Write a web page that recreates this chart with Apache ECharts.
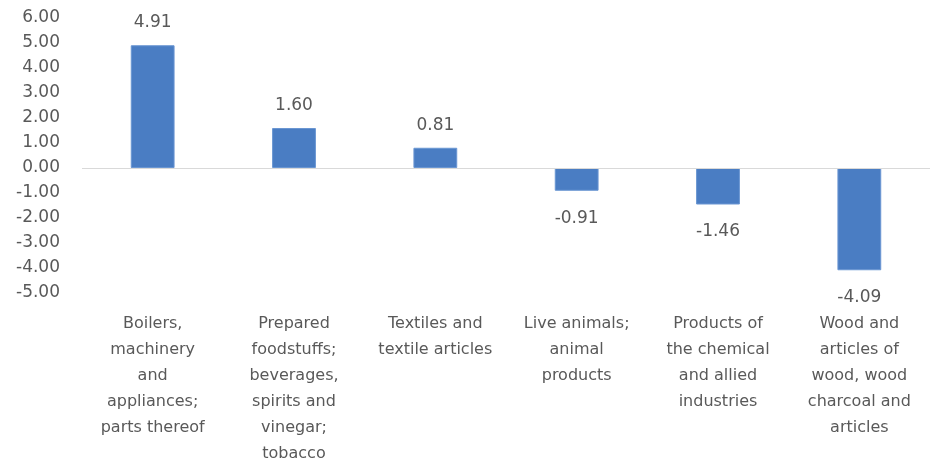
<!DOCTYPE html>
<html>
<head>
<meta charset="utf-8">
<script src="https://cdn.jsdelivr.net/npm/echarts@6/dist/echarts.min.js"></script>
<style>
  html, body { margin: 0; padding: 0; background: #fff; }
  #chart { width: 930px; height: 468px; }
</style>
</head>
<body>
<div id="chart"></div>
<script>
// categories (line breaks as in the picture)
const categories = [
  'Boilers,\nmachinery\nand\nappliances;\nparts thereof',
  'Prepared\nfoodstuffs;\nbeverages,\nspirits and\nvinegar;\ntobacco',
  'Textiles and\ntextile articles',
  'Live animals;\nanimal\nproducts',
  'Products of\nthe chemical\nand allied\nindustries',
  'Wood and\narticles of\nwood, wood\ncharcoal and\narticles'
]
const values = [4.91, 1.60, 0.81, -0.91, -1.46, -4.09]
const yMin = -5
const yMax = 6
const yStep = 1

const textColor = '#595959'
const font = 'DejaVu Sans'

const chart = echarts.init(document.getElementById('chart'))

// positive bars get the label on top, negative ones below
const seriesData = values.map(v => ({
  value: v,
  label: v >= 0 ? { position: 'top', distance: 14 } : { position: 'bottom', distance: 19 }
}))

chart.setOption({
  animation: false,
  grid: { left: 82, right: 0, top: 18, bottom: 175 },
  xAxis: {
    type: 'category',
    data: categories,
    axisLine: { show: false, onZero: false },
    axisTick: { show: false },
    axisLabel: {
      interval: 0,
      color: textColor,
      fontFamily: font,
      fontSize: 16,
      lineHeight: 26,
      margin: 18,
      verticalAlign: 'top'
    }
  },
  yAxis: {
    type: 'value',
    min: yMin,
    max: yMax,
    interval: yStep,
    axisLine: { show: false },
    axisTick: { show: false },
    splitLine: { show: false },
    axisLabel: {
      color: textColor,
      fontFamily: font,
      fontSize: 17,
      margin: 22,
      formatter: v => v.toFixed(2)
    }
  },
  series: [{
    type: 'bar',
    data: seriesData,
    barWidth: '31%',
    itemStyle: { color: '#4a7dc3', borderColor: '#6a96d2', borderWidth: 1 },
    label: {
      show: true,
      color: textColor,
      fontFamily: font,
      fontSize: 17,
      formatter: p => p.value.toFixed(2)
    },
    markLine: {
      silent: true,
      symbol: 'none',
      label: { show: false },
      lineStyle: { color: '#d9d9d9', width: 1, type: 'solid' },
      data: [{ yAxis: 0 }]
    }
  }]
})
</script>
</body>
</html>
